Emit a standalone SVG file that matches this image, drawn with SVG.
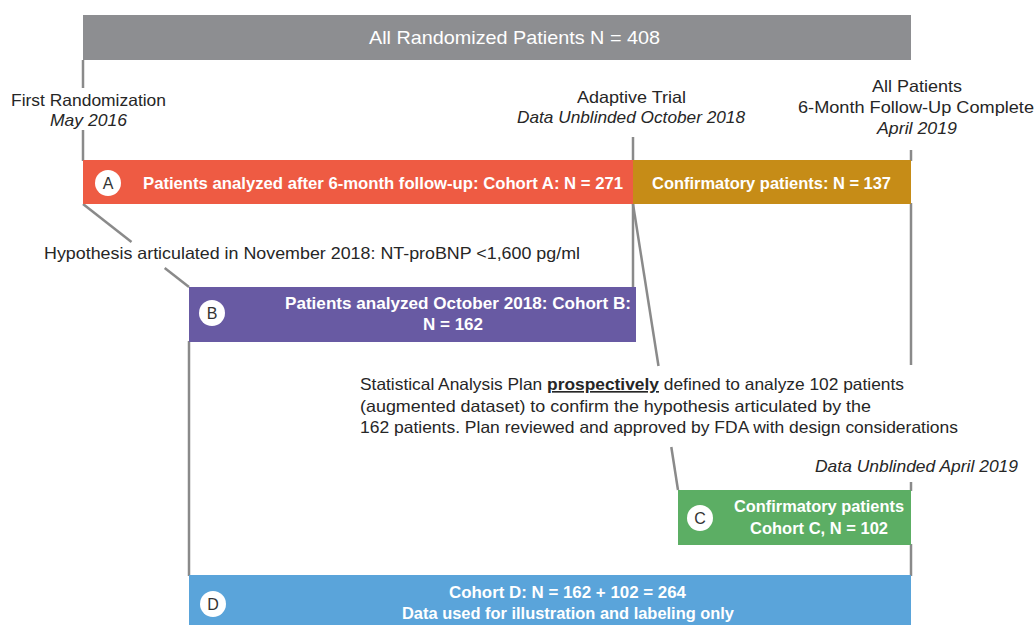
<svg xmlns="http://www.w3.org/2000/svg" width="1036" height="625" viewBox="0 0 1036 625">
<style>
text{font-family:"Liberation Sans",Arial,sans-serif;}
.bar{font-size:17px;font-weight:bold;fill:#ffffff;text-anchor:middle;}
.lab{font-size:16.5px;fill:#262626;text-anchor:middle;}
.it{font-style:italic;}
.bd{font-weight:bold;}
.circ{fill:#ffffff;}
.let{font-size:16px;fill:#333333;text-anchor:middle;}
.ln{stroke:#8a8a8a;stroke-width:2.5;fill:none;}
.body{font-size:16.5px;fill:#262626;}
</style>
<rect width="1036" height="625" fill="#ffffff"/>
<g id="connectors">
<line class="ln" x1="83" y1="60" x2="83" y2="88"/>
<line class="ln" x1="83" y1="130" x2="83" y2="161"/>
<line class="ln" x1="633" y1="137" x2="633" y2="161"/>
<line class="ln" x1="633" y1="203" x2="633" y2="288"/>
<line class="ln" x1="911" y1="150" x2="911" y2="161"/>
<line class="ln" x1="911" y1="203" x2="911" y2="365"/>
<line class="ln" x1="911" y1="482" x2="911" y2="491"/>
<line class="ln" x1="911" y1="544" x2="911" y2="576"/>
<line class="ln" x1="189" y1="341" x2="189" y2="576"/>
<line class="ln" x1="83" y1="204" x2="131.5" y2="242"/>
<line class="ln" x1="164.7" y1="268" x2="189" y2="287"/>
<line class="ln" x1="633" y1="204" x2="658.5" y2="366"/>
<line class="ln" x1="671.3" y1="447" x2="678" y2="490"/>
</g>
<g id="all-randomized">
<rect x="83" y="15" width="828" height="45" fill="#8d8e91"/>
<text x="514.5" y="44" font-size="19" fill="#ffffff" text-anchor="middle" textLength="291" lengthAdjust="spacingAndGlyphs">All Randomized Patients N = 408</text>
</g>
<g id="label-first">
<text class="lab" x="88.5" y="106" textLength="155" lengthAdjust="spacingAndGlyphs">First Randomization</text>
<text class="lab it" x="88.5" y="126" textLength="77" lengthAdjust="spacingAndGlyphs">May 2016</text>
</g>
<g id="label-adaptive">
<text class="lab" x="631.5" y="103" textLength="109" lengthAdjust="spacingAndGlyphs">Adaptive Trial</text>
<text class="lab it" x="631" y="123" textLength="228" lengthAdjust="spacingAndGlyphs">Data Unblinded October 2018</text>
</g>
<g id="label-all">
<text class="lab" x="917" y="92" textLength="90" lengthAdjust="spacingAndGlyphs">All Patients</text>
<text class="lab" x="916" y="113" textLength="236" lengthAdjust="spacingAndGlyphs">6-Month Follow-Up Complete</text>
<text class="lab it" x="917" y="134" textLength="80" lengthAdjust="spacingAndGlyphs">April 2019</text>
</g>
<g id="cohort-a">
<rect x="83" y="160" width="550" height="44" fill="#ee5b43"/>
<circle class="circ" cx="108" cy="183" r="13"/>
<text class="let" x="108" y="188.5">A</text>
<text class="bar" x="383" y="189" textLength="480" lengthAdjust="spacingAndGlyphs">Patients analyzed after 6-month follow-up: Cohort A: N = 271</text>
</g>
<g id="confirmatory-137">
<rect x="633" y="160" width="278" height="44" fill="#c68c17"/>
<text class="bar" x="771.5" y="189" textLength="239" lengthAdjust="spacingAndGlyphs">Confirmatory patients: N = 137</text>
</g>
<g id="hypothesis">
<text class="lab" x="312" y="259" textLength="536" lengthAdjust="spacingAndGlyphs">Hypothesis articulated in November 2018: NT-proBNP &lt;1,600 pg/ml</text>
</g>
<g id="cohort-b">
<rect x="189" y="287" width="447" height="55" fill="#685aa3"/>
<circle class="circ" cx="212" cy="313" r="13"/>
<text class="let" x="212" y="318.5">B</text>
<text class="bar" x="458" y="309" textLength="346" lengthAdjust="spacingAndGlyphs">Patients analyzed October 2018: Cohort B:</text>
<text class="bar" x="453" y="330" textLength="60" lengthAdjust="spacingAndGlyphs">N = 162</text>
</g>
<g id="sap">
<text class="body" x="360" y="390" textLength="544" lengthAdjust="spacingAndGlyphs">Statistical Analysis Plan <tspan class="bd" text-decoration="underline">prospectively</tspan> defined to analyze 102 patients</text>
<text class="body" x="360" y="412" textLength="511" lengthAdjust="spacingAndGlyphs">(augmented dataset) to confirm the hypothesis articulated by the</text>
<text class="body" x="360" y="433" textLength="598" lengthAdjust="spacingAndGlyphs">162 patients. Plan reviewed and approved by FDA with design considerations</text>
</g>
<g id="label-unblinded-2019">
<text class="lab it" x="1018" y="472" style="text-anchor:end" textLength="203" lengthAdjust="spacingAndGlyphs">Data Unblinded April 2019</text>
</g>
<g id="cohort-c">
<rect x="678" y="490" width="233" height="55" fill="#5cae64"/>
<circle class="circ" cx="700" cy="518" r="13"/>
<text class="let" x="700" y="523.5">C</text>
<text class="bar" x="819" y="512" textLength="170" lengthAdjust="spacingAndGlyphs">Confirmatory patients</text>
<text class="bar" x="819" y="534" textLength="138" lengthAdjust="spacingAndGlyphs">Cohort C, N = 102</text>
</g>
<g id="cohort-d">
<rect x="189" y="575" width="722" height="50" fill="#5aa4da"/>
<circle class="circ" cx="213" cy="604" r="13"/>
<text class="let" x="213" y="609.5">D</text>
<text class="bar" x="567.5" y="598" textLength="237" lengthAdjust="spacingAndGlyphs">Cohort D: N = 162 + 102 = 264</text>
<text class="bar" x="568" y="619" textLength="332" lengthAdjust="spacingAndGlyphs">Data used for illustration and labeling only</text>
</g>
</svg>
